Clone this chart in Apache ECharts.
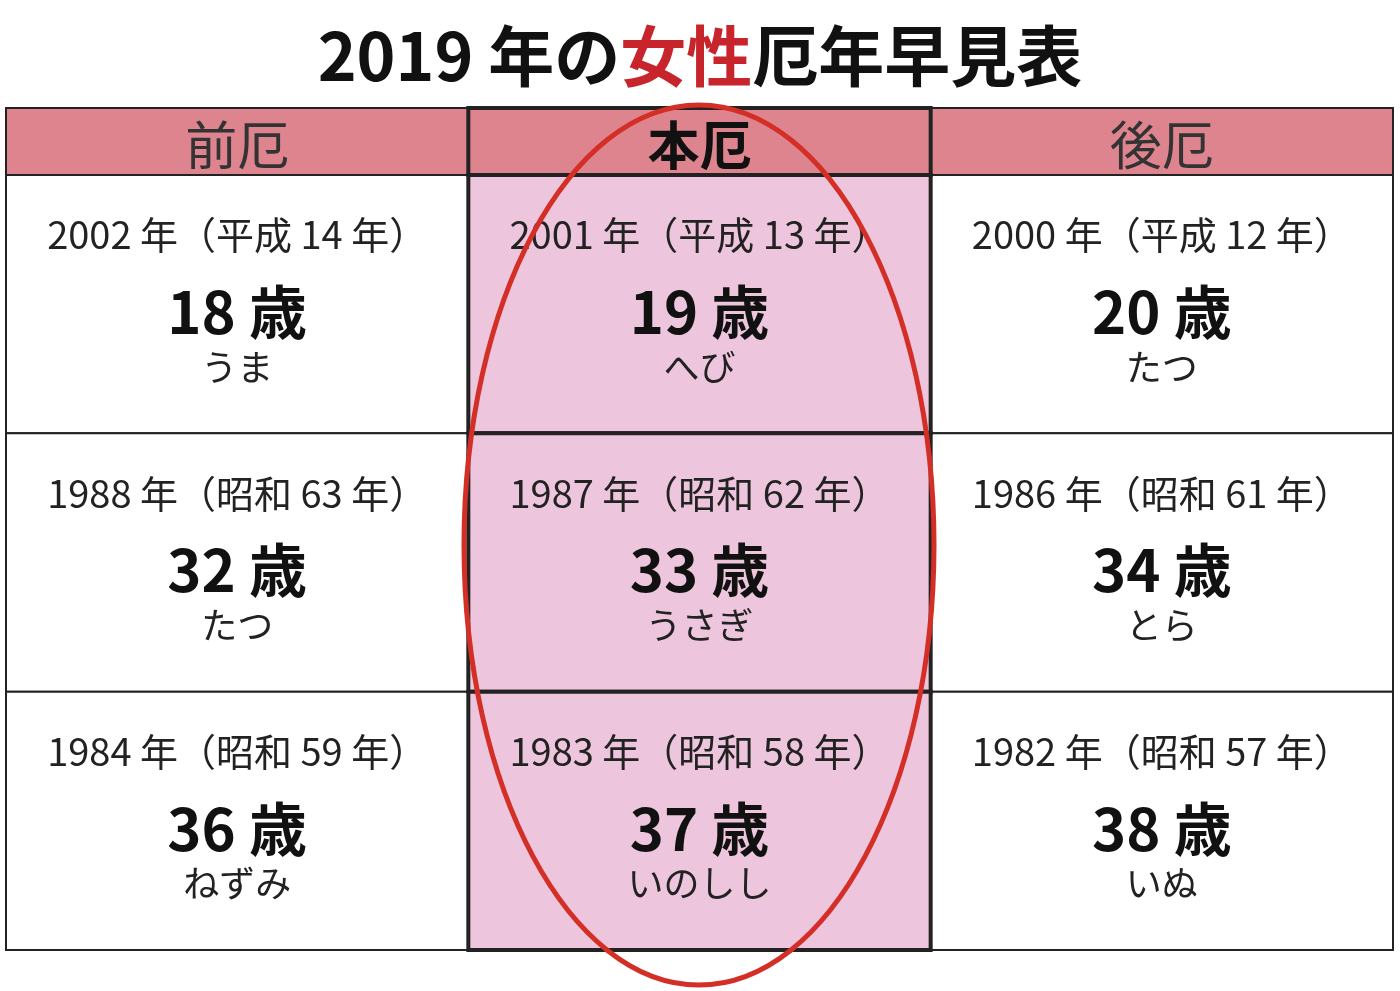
<!DOCTYPE html>
<html><head><meta charset="utf-8">
<script src="https://cdn.jsdelivr.net/npm/echarts@6/dist/echarts.min.js"></script>
<style>html,body{margin:0;background:#fff}#c{width:1400px;height:991px}</style>
</head><body><div id="c"></div>
<script>
const columns = ['前厄', '本厄', '後厄'];
const rowKeys = ['r1', 'r2', 'r3'];
const yearLabels = [
  ['2002 年（平成 14 年）', '2001 年（平成 13 年）', '2000 年（平成 12 年）'],
  ['1988 年（昭和 63 年）', '1987 年（昭和 62 年）', '1986 年（昭和 61 年）'],
  ['1984 年（昭和 59 年）', '1983 年（昭和 58 年）', '1982 年（昭和 57 年）']
];
const ages = [[18, 19, 20], [32, 33, 34], [36, 37, 38]];
const animals = [
  ['うま', 'へび', 'たつ'],
  ['たつ', 'うさぎ', 'とら'],
  ['ねずみ', 'いのしし', 'いぬ']
];
const FONT = '"Noto Sans CJK JP", "Noto Sans", sans-serif';
const MAIN = 1;

const bodyData = [];
ages.forEach((row, r) => row.forEach((a, c) => bodyData.push([c, r, yearLabels[r][c], a, animals[r][c]])));
const headData = columns.map((h, c) => [c, 0, h]);

function cellRect(api) {
  const p = api.coord([api.value(0), api.value(1)]);
  const s = api.size([1, 1]);
  return { x: p[0] - s[0] / 2, y: p[1] - s[1] / 2, w: s[0], h: s[1] };
}

const chart = echarts.init(document.getElementById('c'));
chart.setOption({
  animation: false,
  title: {
    text: '2019 年の{r|女性}厄年早見表', left: 'center', top: 18,
    textStyle: { fontFamily: FONT, fontSize: 66, fontWeight: 'bold', color: '#111',
      rich: { r: { fontFamily: FONT, fontSize: 66, fontWeight: 'bold', color: '#c8242b' } } }
  },
  grid: [
    { left: 6, right: 7, top: 108, height: 67 },
    { left: 6, right: 7, top: 175, bottom: 41 }
  ],
  xAxis: [
    { type: 'category', data: columns, gridIndex: 0, show: false },
    { type: 'category', data: columns, gridIndex: 1, show: false }
  ],
  yAxis: [
    { type: 'category', data: ['h'], gridIndex: 0, show: false, inverse: true },
    { type: 'category', data: rowKeys, gridIndex: 1, show: false, inverse: true }
  ],
  series: [
    {
      type: 'custom', xAxisIndex: 0, yAxisIndex: 0, data: headData, z: 2,
      renderItem: (params, api) => {
        const r = cellRect(api); const c = api.value(0); const main = c === MAIN;
        return { type: 'group', children: [
          { type: 'rect', shape: { x: r.x, y: r.y, width: r.w, height: r.h },
            style: { fill: '#de848f', stroke: '#222', lineWidth: main ? 4 : 2 }, z2: main ? 5 : 1 },
          { type: 'text', z2: 6, style: { x: r.x + r.w / 2, y: r.y + r.h / 2 + 4, text: columns[c],
            align: 'center', verticalAlign: 'middle', font: (main ? 'bold ' : '') + '52px ' + FONT,
            fill: main ? '#111' : '#333' } }
        ] };
      }
    },
    {
      type: 'custom', xAxisIndex: 1, yAxisIndex: 1, data: bodyData, z: 2,
      renderItem: (params, api) => {
        const r = cellRect(api); const c = api.value(0); const main = c === MAIN;
        const cx = r.x + r.w / 2;
        const d = bodyData[params.dataIndex];
        return { type: 'group', children: [
          { type: 'rect', shape: { x: r.x, y: r.y, width: r.w, height: r.h },
            style: { fill: main ? '#edc6dd' : '#fff', stroke: '#222', lineWidth: main ? 4 : 2 }, z2: main ? 5 : 1 },
          { type: 'text', z2: 6, style: { x: cx, y: r.y + 60, text: d[2], align: 'center', verticalAlign: 'middle',
            font: '38px ' + FONT, fill: '#222' } },
          { type: 'text', z2: 6, style: { x: cx, y: r.y + 137, text: d[3] + ' 歳', align: 'center', verticalAlign: 'middle',
            font: 'bold 58px ' + FONT, fill: '#111' } },
          { type: 'text', z2: 6, style: { x: cx, y: r.y + 192, text: d[4], align: 'center', verticalAlign: 'middle',
            font: '36px ' + FONT, fill: '#222' } }
        ] };
      }
    }
  ],
  graphic: [
    { type: 'ellipse', z: 100, shape: { cx: 699, cy: 545, rx: 235, ry: 440 },
      style: { fill: 'none', stroke: '#d42f27', lineWidth: 5 } }
  ]
});
</script></body></html>
